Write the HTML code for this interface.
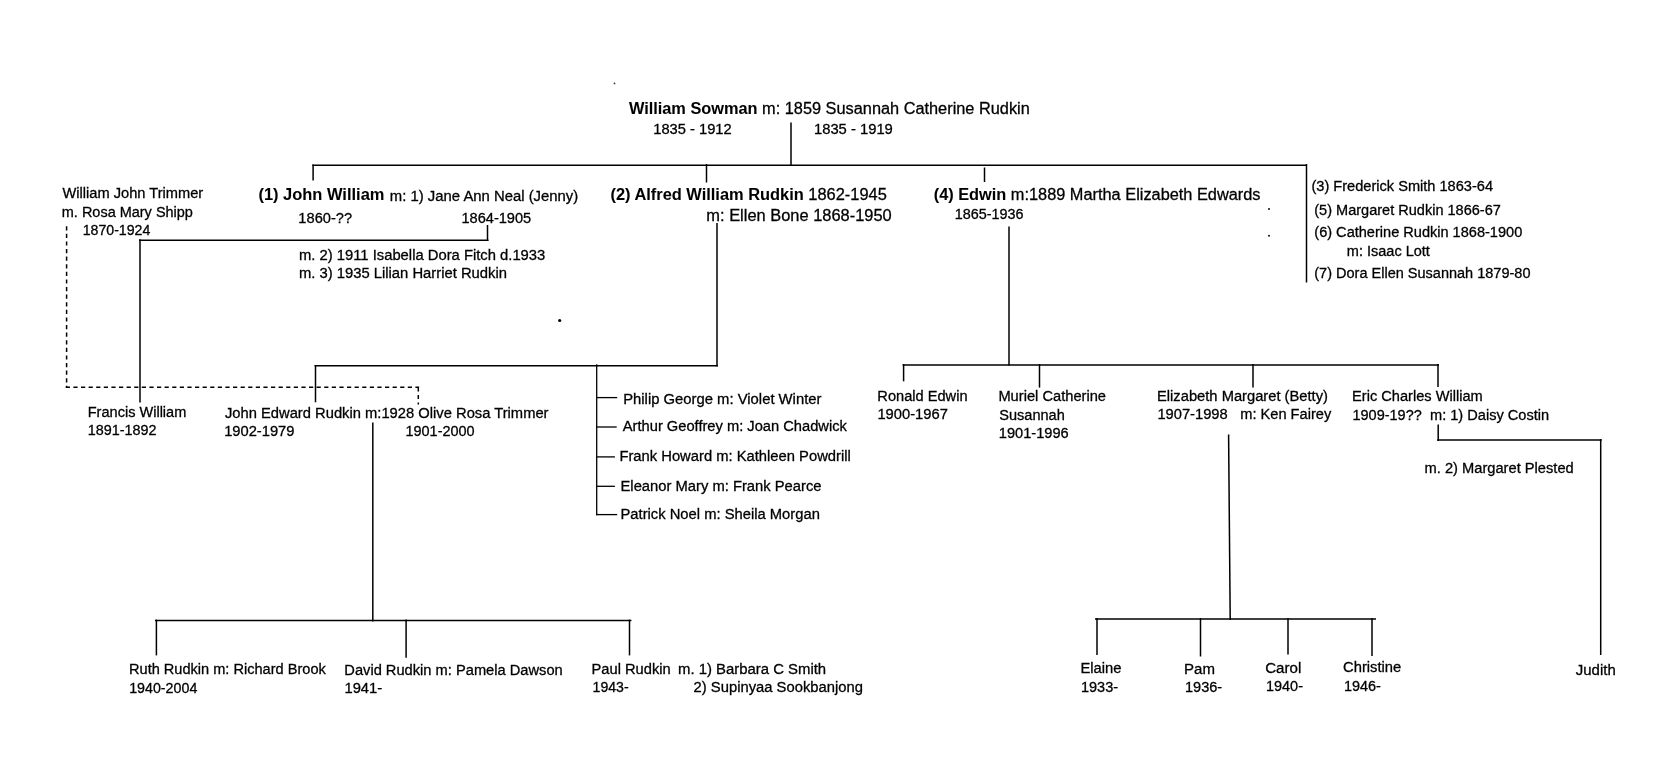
<!DOCTYPE html><html><head><meta charset="utf-8"><title>Sowman Family Tree</title><style>html,body{margin:0;padding:0;background:#fff;}svg{display:block;will-change:transform}text{font-family:"Liberation Sans",sans-serif;fill:#000;stroke:#000;stroke-width:0.28px}tspan.b{font-weight:bold;stroke-width:0.05px}</style></head><body>
<svg width="1654" height="773" viewBox="0 0 1654 773">
<rect width="1654" height="773" fill="#fff"/>
<g stroke="#000" stroke-width="1.5" fill="none" stroke-linecap="butt">
<line x1="791" y1="122.5" x2="791" y2="165"/>
<line x1="312.3" y1="165.2" x2="1307" y2="165.2"/>
<line x1="313.1" y1="164.5" x2="313.1" y2="180.6"/>
<line x1="706.5" y1="164" x2="706.5" y2="182.5"/>
<line x1="984.5" y1="167.5" x2="984.5" y2="182"/>
<line x1="1306.5" y1="164" x2="1306.5" y2="282.5"/>
<line x1="487.5" y1="225" x2="487.5" y2="241"/>
<line x1="139" y1="240.3" x2="488.5" y2="240.3"/>
<line x1="140" y1="239.3" x2="140" y2="402.5"/>
<line x1="717" y1="223" x2="717" y2="366.6"/>
<line x1="314.6" y1="365.8" x2="717.8" y2="365.8"/>
<line x1="315.5" y1="365" x2="315.5" y2="402.3"/>
<line x1="596.7" y1="364.2" x2="596.7" y2="515.2" stroke-width="1.3"/>
<line x1="596" y1="397.6" x2="617.2" y2="397.6" stroke-width="1.3"/>
<line x1="596" y1="427" x2="616.7" y2="427" stroke-width="1.3"/>
<line x1="596" y1="456.9" x2="614.9" y2="456.9" stroke-width="1.3"/>
<line x1="596" y1="486.3" x2="614.9" y2="486.3" stroke-width="1.3"/>
<line x1="596" y1="514.6" x2="617.2" y2="514.6" stroke-width="1.3"/>
<line x1="1009" y1="226.6" x2="1009" y2="365.5"/>
<line x1="902.6" y1="364.9" x2="1439" y2="364.9"/>
<line x1="903.6" y1="364" x2="903.6" y2="381.3"/>
<line x1="1039.5" y1="364" x2="1039.5" y2="387.6"/>
<line x1="1253" y1="364" x2="1253" y2="387.6"/>
<line x1="1438" y1="364" x2="1438" y2="387"/>
<line x1="1228.6" y1="434.6" x2="1230.2" y2="620"/>
<line x1="1095" y1="619" x2="1376" y2="619"/>
<line x1="1097" y1="618" x2="1097" y2="655"/>
<line x1="1200.5" y1="618" x2="1200.5" y2="656.5"/>
<line x1="1288" y1="618" x2="1288" y2="654.5"/>
<line x1="1372" y1="618" x2="1372" y2="656"/>
<line x1="1438.2" y1="424.4" x2="1438.2" y2="441"/>
<line x1="1437.2" y1="440" x2="1601.7" y2="440"/>
<line x1="1600.7" y1="439" x2="1600.7" y2="655"/>
<line x1="372.8" y1="422.5" x2="372.8" y2="621.6"/>
<line x1="155" y1="620.6" x2="631.4" y2="620.6"/>
<line x1="156.4" y1="619.6" x2="156.4" y2="655.4"/>
<line x1="406.1" y1="619.6" x2="406.1" y2="657.8"/>
<line x1="629.5" y1="619.6" x2="629.5" y2="655.4"/>
</g>
<g stroke="#000" stroke-width="1.5" fill="none" stroke-dasharray="4.2 3.4">
<line x1="66.6" y1="226.2" x2="66.6" y2="388"/>
<line x1="65.8" y1="387.3" x2="419.1" y2="387.3"/>
<line x1="418.3" y1="387.3" x2="418.3" y2="404.5"/>
</g>
<circle cx="559.7" cy="320.5" r="1.6" fill="#000"/>
<circle cx="614.5" cy="83.4" r="0.9" fill="#333"/>
<circle cx="1269" cy="209" r="1.0" fill="#111"/>
<circle cx="1269" cy="235.8" r="1.0" fill="#111"/>
<text x="628.9" y="114.2" font-size="16" textLength="400.87" lengthAdjust="spacingAndGlyphs" xml:space="preserve"><tspan class="b">William Sowman</tspan> m: 1859 Susannah Catherine Rudkin</text>
<text x="653.25" y="133.9" font-size="14" textLength="78.39" lengthAdjust="spacingAndGlyphs" xml:space="preserve">1835 - 1912</text>
<text x="813.94" y="133.9" font-size="14" textLength="78.9" lengthAdjust="spacingAndGlyphs" xml:space="preserve">1835 - 1919</text>
<text x="62.57" y="198.4" font-size="14" textLength="140.64" lengthAdjust="spacingAndGlyphs" xml:space="preserve">William John Trimmer</text>
<text x="61.8" y="216.8" font-size="14" textLength="131.1" lengthAdjust="spacingAndGlyphs" xml:space="preserve">m. Rosa Mary Shipp</text>
<text x="82.69" y="235.1" font-size="14" textLength="67.64" lengthAdjust="spacingAndGlyphs" xml:space="preserve">1870-1924</text>
<text x="258.43" y="200.2" font-size="16" textLength="126.0" lengthAdjust="spacingAndGlyphs" xml:space="preserve"><tspan class="b">(1) John William</tspan></text>
<text x="389.87" y="200.7" font-size="14" textLength="188.38" lengthAdjust="spacingAndGlyphs" xml:space="preserve">m: 1) Jane Ann Neal (Jenny)</text>
<text x="298.36" y="223.1" font-size="14" textLength="53.68" lengthAdjust="spacingAndGlyphs" xml:space="preserve">1860-??</text>
<text x="461.46" y="223.1" font-size="14" textLength="69.74" lengthAdjust="spacingAndGlyphs" xml:space="preserve">1864-1905</text>
<text x="298.98" y="260.2" font-size="14" textLength="246.33" lengthAdjust="spacingAndGlyphs" xml:space="preserve">m. 2) 1911 Isabella Dora Fitch d.1933</text>
<text x="298.98" y="278.2" font-size="14" textLength="207.95" lengthAdjust="spacingAndGlyphs" xml:space="preserve">m. 3) 1935 Lilian Harriet Rudkin</text>
<text x="610.43" y="200.1" font-size="16" textLength="276.36" lengthAdjust="spacingAndGlyphs" xml:space="preserve"><tspan class="b">(2) Alfred William Rudkin</tspan> 1862-1945</text>
<text x="706.37" y="220.9" font-size="16" textLength="185.32" lengthAdjust="spacingAndGlyphs" xml:space="preserve">m: Ellen Bone 1868-1950</text>
<text x="933.73" y="200.2" font-size="16" textLength="326.78" lengthAdjust="spacingAndGlyphs" xml:space="preserve"><tspan class="b">(4) Edwin</tspan> m:1889 Martha Elizabeth Edwards</text>
<text x="954.77" y="219.2" font-size="14" textLength="68.72" lengthAdjust="spacingAndGlyphs" xml:space="preserve">1865-1936</text>
<text x="1311.49" y="191.3" font-size="14" textLength="181.55" lengthAdjust="spacingAndGlyphs" xml:space="preserve">(3) Frederick Smith 1863-64</text>
<text x="1314.29" y="214.9" font-size="14" textLength="186.57" lengthAdjust="spacingAndGlyphs" xml:space="preserve">(5) Margaret Rudkin 1866-67</text>
<text x="1314.29" y="237.3" font-size="14" textLength="207.95" lengthAdjust="spacingAndGlyphs" xml:space="preserve">(6) Catherine Rudkin 1868-1900</text>
<text x="1346.79" y="255.8" font-size="14" textLength="83.14" lengthAdjust="spacingAndGlyphs" xml:space="preserve">m: Isaac Lott</text>
<text x="1314.29" y="277.6" font-size="14" textLength="216.18" lengthAdjust="spacingAndGlyphs" xml:space="preserve">(7) Dora Ellen Susannah 1879-80</text>
<text x="87.73" y="417.2" font-size="14" textLength="98.59" lengthAdjust="spacingAndGlyphs" xml:space="preserve">Francis William</text>
<text x="87.87" y="435.4" font-size="14" textLength="68.65" lengthAdjust="spacingAndGlyphs" xml:space="preserve">1891-1892</text>
<text x="224.94" y="418.2" font-size="14" textLength="323.59" lengthAdjust="spacingAndGlyphs" xml:space="preserve">John Edward Rudkin m:1928 Olive Rosa Trimmer</text>
<text x="224.15" y="436.2" font-size="14" textLength="70.26" lengthAdjust="spacingAndGlyphs" xml:space="preserve">1902-1979</text>
<text x="405.47" y="436.0" font-size="14" textLength="69.2" lengthAdjust="spacingAndGlyphs" xml:space="preserve">1901-2000</text>
<text x="623.21" y="403.9" font-size="14" textLength="198.24" lengthAdjust="spacingAndGlyphs" xml:space="preserve">Philip George m: Violet Winter</text>
<text x="622.8" y="431.0" font-size="14" textLength="224.07" lengthAdjust="spacingAndGlyphs" xml:space="preserve">Arthur Geoffrey m: Joan Chadwick</text>
<text x="619.41" y="460.5" font-size="14" textLength="231.36" lengthAdjust="spacingAndGlyphs" xml:space="preserve">Frank Howard m: Kathleen Powdrill</text>
<text x="620.51" y="490.6" font-size="14" textLength="201.05" lengthAdjust="spacingAndGlyphs" xml:space="preserve">Eleanor Mary m: Frank Pearce</text>
<text x="620.51" y="518.6" font-size="14" textLength="199.36" lengthAdjust="spacingAndGlyphs" xml:space="preserve">Patrick Noel m: Sheila Morgan</text>
<text x="877.33" y="400.6" font-size="14" textLength="90.2" lengthAdjust="spacingAndGlyphs" xml:space="preserve">Ronald Edwin</text>
<text x="877.45" y="418.8" font-size="14" textLength="70.39" lengthAdjust="spacingAndGlyphs" xml:space="preserve">1900-1967</text>
<text x="998.42" y="401.3" font-size="14" textLength="107.6" lengthAdjust="spacingAndGlyphs" xml:space="preserve">Muriel Catherine</text>
<text x="999.25" y="419.6" font-size="14" textLength="65.49" lengthAdjust="spacingAndGlyphs" xml:space="preserve">Susannah</text>
<text x="998.86" y="438.2" font-size="14" textLength="69.85" lengthAdjust="spacingAndGlyphs" xml:space="preserve">1901-1996</text>
<text x="1157.02" y="400.6" font-size="14" textLength="170.9" lengthAdjust="spacingAndGlyphs" xml:space="preserve">Elizabeth Margaret (Betty)</text>
<text x="1157.45" y="418.8" font-size="14" textLength="70.26" lengthAdjust="spacingAndGlyphs" xml:space="preserve">1907-1998</text>
<text x="1240.29" y="418.8" font-size="14" textLength="90.93" lengthAdjust="spacingAndGlyphs" xml:space="preserve">m: Ken Fairey</text>
<text x="1352.03" y="400.9" font-size="14" textLength="130.77" lengthAdjust="spacingAndGlyphs" xml:space="preserve">Eric Charles William</text>
<text x="1352.46" y="419.5" font-size="14" textLength="69.3" lengthAdjust="spacingAndGlyphs" xml:space="preserve">1909-19??</text>
<text x="1429.99" y="419.5" font-size="14" textLength="119.11" lengthAdjust="spacingAndGlyphs" xml:space="preserve">m: 1) Daisy Costin</text>
<text x="1424.58" y="472.9" font-size="14" textLength="149.15" lengthAdjust="spacingAndGlyphs" xml:space="preserve">m. 2) Margaret Plested</text>
<text x="129.03" y="674.3" font-size="14" textLength="196.75" lengthAdjust="spacingAndGlyphs" xml:space="preserve">Ruth Rudkin m: Richard Brook</text>
<text x="129.18" y="692.7" font-size="14" textLength="68.15" lengthAdjust="spacingAndGlyphs" xml:space="preserve">1940-2004</text>
<text x="344.32" y="674.6" font-size="14" textLength="218.4" lengthAdjust="spacingAndGlyphs" xml:space="preserve">David Rudkin m: Pamela Dawson</text>
<text x="344.45" y="692.9" font-size="14" textLength="37.75" lengthAdjust="spacingAndGlyphs" xml:space="preserve">1941-</text>
<text x="591.52" y="673.8" font-size="14" textLength="79.2" lengthAdjust="spacingAndGlyphs" xml:space="preserve">Paul Rudkin</text>
<text x="677.97" y="673.8" font-size="14" textLength="148.18" lengthAdjust="spacingAndGlyphs" xml:space="preserve">m. 1) Barbara C Smith</text>
<text x="592.59" y="692.3" font-size="14" textLength="36.07" lengthAdjust="spacingAndGlyphs" xml:space="preserve">1943-</text>
<text x="693.64" y="692.3" font-size="14" textLength="169.25" lengthAdjust="spacingAndGlyphs" xml:space="preserve">2) Supinyaa Sookbanjong</text>
<text x="1080.41" y="673.3" font-size="14" textLength="41.06" lengthAdjust="spacingAndGlyphs" xml:space="preserve">Elaine</text>
<text x="1080.96" y="691.7" font-size="14" textLength="37.12" lengthAdjust="spacingAndGlyphs" xml:space="preserve">1933-</text>
<text x="1184.09" y="673.6" font-size="14" textLength="30.9" lengthAdjust="spacingAndGlyphs" xml:space="preserve">Pam</text>
<text x="1184.96" y="692.0" font-size="14" textLength="37.22" lengthAdjust="spacingAndGlyphs" xml:space="preserve">1936-</text>
<text x="1265.23" y="673.0" font-size="14" textLength="36.08" lengthAdjust="spacingAndGlyphs" xml:space="preserve">Carol</text>
<text x="1265.97" y="691.4" font-size="14" textLength="37.01" lengthAdjust="spacingAndGlyphs" xml:space="preserve">1940-</text>
<text x="1343.04" y="672.0" font-size="14" textLength="58.22" lengthAdjust="spacingAndGlyphs" xml:space="preserve">Christine</text>
<text x="1343.97" y="690.6" font-size="14" textLength="36.91" lengthAdjust="spacingAndGlyphs" xml:space="preserve">1946-</text>
<text x="1575.83" y="675.0" font-size="14" textLength="39.88" lengthAdjust="spacingAndGlyphs" xml:space="preserve">Judith</text>
</svg></body></html>
